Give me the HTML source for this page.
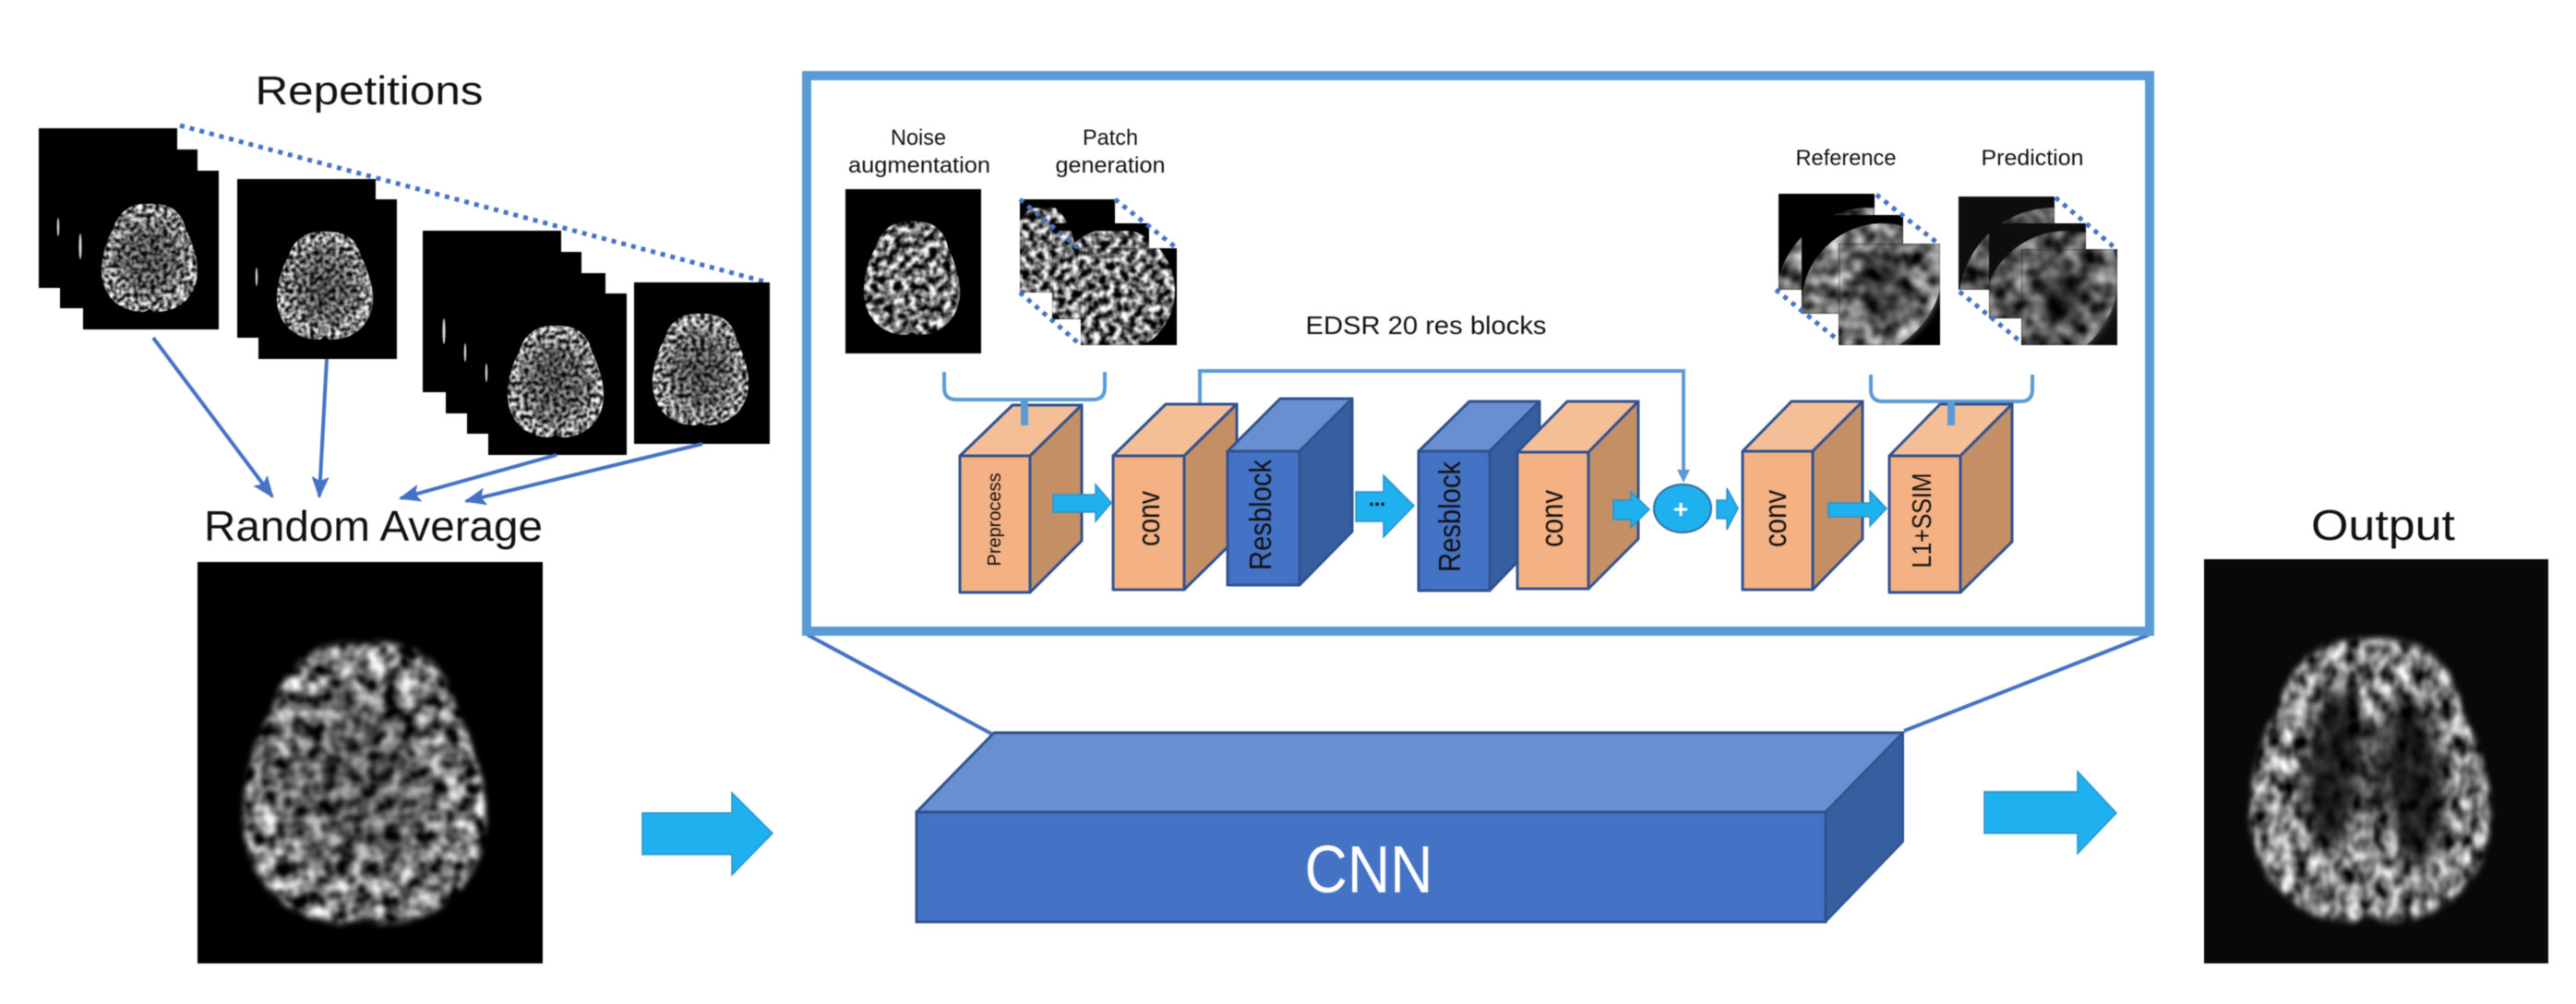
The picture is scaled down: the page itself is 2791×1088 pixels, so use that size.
<!DOCTYPE html>
<html>
<head>
<meta charset="utf-8">
<style>
html,body{margin:0;padding:0;background:#fff;width:2791px;height:1088px;overflow:hidden}
svg{display:block;filter:blur(.6px)}
text{font-family:"Liberation Sans",sans-serif;fill:#111}
.f{fill:#f4b183;stroke:#2f528f;stroke-width:3;stroke-linejoin:round}
.t{fill:#f4be96;stroke:#2f528f;stroke-width:3;stroke-linejoin:round}
.s{fill:#c58f66;stroke:#2f528f;stroke-width:3;stroke-linejoin:round}
.bf{fill:#4472c4;stroke:#2f528f;stroke-width:3;stroke-linejoin:round}
.bt{fill:#6a8fd0;stroke:#2f528f;stroke-width:3;stroke-linejoin:round}
.bs{fill:#365f9f;stroke:#2f528f;stroke-width:3;stroke-linejoin:round}
.a{fill:#1fb0f0;stroke:#2e8fc4;stroke-width:1.5}
.d{fill:none;stroke:#4472c4;stroke-width:5;stroke-dasharray:5 6}
.l{fill:none;stroke:#5b9bd5;stroke-width:4}
.th{fill:none;stroke:#4472c4;stroke-width:4}
</style>
</head>
<body>
<svg width="2791" height="1088" viewBox="0 0 2791 1088" xmlns="http://www.w3.org/2000/svg">
<defs>
<path id="b" d="M-.05,-1 C.3,-1.02 .65,-.95 .75,-.55 C.95,-.2 1.02,.1 1,.3 C.95,.75 .55,1 .1,.98 L0,.93 L-.1,.98 C-.55,1 -.95,.75 -1,.3 C-1.02,0 -.9,-.35 -.75,-.55 C-.65,-.9 -.3,-1.02 -.05,-1Z"/>
<filter id="soft" x="-10%" y="-10%" width="120%" height="120%"><feGaussianBlur stdDeviation=".025"/></filter>
<filter id="bl4" x="-40%" y="-40%" width="180%" height="180%"><feGaussianBlur stdDeviation="4"/></filter>
<filter id="bl9" x="-60%" y="-40%" width="220%" height="180%"><feGaussianBlur stdDeviation="9"/></filter>
<filter id="nFine" x="0" y="0" width="100%" height="100%" color-interpolation-filters="sRGB">
<feTurbulence type="fractalNoise" baseFrequency=".22" numOctaves="2" seed="4"/>
<feColorMatrix type="matrix" values="2.9 0 0 0 -.92 2.9 0 0 0 -.92 2.9 0 0 0 -.92 0 0 0 0 1"/>
<feGaussianBlur stdDeviation=".7"/>
</filter>
<filter id="nMid" x="0" y="0" width="100%" height="100%" color-interpolation-filters="sRGB">
<feTurbulence type="fractalNoise" baseFrequency=".13" numOctaves="2" seed="9"/>
<feColorMatrix type="matrix" values="2.6 0 0 0 -.85 2.6 0 0 0 -.85 2.6 0 0 0 -.85 0 0 0 0 1"/>
<feGaussianBlur stdDeviation=".8"/>
</filter>
<filter id="nBig" x="0" y="0" width="100%" height="100%" color-interpolation-filters="sRGB">
<feTurbulence type="fractalNoise" baseFrequency=".06" numOctaves="2" seed="12"/>
<feColorMatrix type="matrix" values="2 0 0 0 -.52 2 0 0 0 -.52 2 0 0 0 -.52 0 0 0 0 1"/>
<feGaussianBlur stdDeviation="1.5"/>
</filter>
<filter id="nGray" x="0" y="0" width="100%" height="100%" color-interpolation-filters="sRGB">
<feTurbulence type="fractalNoise" baseFrequency=".055" numOctaves="2" seed="21"/>
<feColorMatrix type="matrix" values="1.5 0 0 0 -.32 1.5 0 0 0 -.32 1.5 0 0 0 -.32 0 0 0 0 1"/>
<feGaussianBlur stdDeviation="1.2"/>
</filter>
<filter id="nOut" x="0" y="0" width="100%" height="100%" color-interpolation-filters="sRGB">
<feTurbulence type="fractalNoise" baseFrequency=".07 .05" numOctaves="2" seed="30"/>
<feColorMatrix type="matrix" values="1.7 0 0 0 -.35 1.7 0 0 0 -.35 1.7 0 0 0 -.35 0 0 0 0 1"/>
<feGaussianBlur stdDeviation="1.2"/>
</filter>
<radialGradient id="core"><stop offset="0" stop-color="#000" stop-opacity=".5"/><stop offset=".65" stop-color="#000" stop-opacity=".3"/><stop offset="1" stop-color="#000" stop-opacity="0"/></radialGradient>
<mask id="mRep" maskUnits="userSpaceOnUse" x="0" y="0" width="2791" height="1088">
<g fill="#fff">
<use href="#b" transform="translate(162 280) scale(52 59)"/>
<use href="#b" transform="translate(352 310) scale(52 59)"/>
<use href="#b" transform="translate(602 414) scale(52 61)"/>
<use href="#b" transform="translate(759 401) scale(52 61)"/>
</g>
</mask>
<mask id="mBig" maskUnits="userSpaceOnUse" x="0" y="0" width="2791" height="1088"><use href="#b" fill="#fff" transform="translate(395 850) scale(131 153)" filter="url(#soft)"/></mask>
<mask id="mOut" maskUnits="userSpaceOnUse" x="0" y="0" width="2791" height="1088"><use href="#b" fill="#fff" transform="translate(2568 847) scale(130 154)" filter="url(#soft)"/></mask>
<mask id="mNoise" maskUnits="userSpaceOnUse" x="0" y="0" width="2791" height="1088"><use href="#b" fill="#fff" transform="translate(988 302) scale(52 62)"/></mask>
<mask id="mP" maskUnits="userSpaceOnUse" x="0" y="0" width="2791" height="1088"><ellipse cx="1207" cy="315" rx="66" ry="68" fill="#fff"/><ellipse cx="1130" cy="285" rx="36" ry="64" fill="#fff"/></mask>
<mask id="mR1" maskUnits="userSpaceOnUse" x="0" y="0" width="2791" height="1088"><ellipse cx="2025" cy="330" rx="102" ry="105" fill="#fff"/></mask>
<mask id="mR2" maskUnits="userSpaceOnUse" x="0" y="0" width="2791" height="1088"><ellipse cx="2040" cy="330" rx="88" ry="88" fill="#fff"/></mask>
<mask id="mR3" maskUnits="userSpaceOnUse" x="0" y="0" width="2791" height="1088"><ellipse cx="2000" cy="290" rx="105" ry="100" fill="#fff"/></mask>
<mask id="mQ1" maskUnits="userSpaceOnUse" x="0" y="0" width="2791" height="1088"><ellipse cx="2225" cy="330" rx="103" ry="105" fill="#fff"/></mask>
<mask id="mQ2" maskUnits="userSpaceOnUse" x="0" y="0" width="2791" height="1088"><ellipse cx="2240" cy="335" rx="90" ry="85" fill="#fff"/></mask>
<mask id="mQ3" maskUnits="userSpaceOnUse" x="0" y="0" width="2791" height="1088"><ellipse cx="2190" cy="300" rx="105" ry="100" fill="#fff"/></mask>
<clipPath id="cP2"><rect x="1140" y="242" width="105" height="104"/></clipPath>
<clipPath id="cR3"><rect x="1992" y="264" width="110" height="110"/></clipPath>
<clipPath id="cQ3"><rect x="2190" y="270" width="104" height="104"/></clipPath>
<marker id="ah" viewBox="0 0 10 10" refX="9" refY="5" markerWidth="6" markerHeight="6" orient="auto"><path d="M0,1 L10,5 L0,9 L2,5Z" fill="#4472c4"/></marker>
</defs>

<rect width="2791" height="1088" fill="#fff"/>

<!-- Left: repetitions -->
<text x="400" y="113" font-size="44" text-anchor="middle" textLength="247" lengthAdjust="spacingAndGlyphs">Repetitions</text>
<line class="d" x1="195" y1="136" x2="828" y2="305"/>
<g fill="#000">
<rect x="42" y="139" width="150" height="173"/><rect x="65" y="162" width="149" height="172"/><rect x="90" y="185" width="147" height="172"/>
<rect x="257" y="194" width="150" height="172"/><rect x="280" y="216" width="150" height="173"/>
<rect x="458" y="250" width="150" height="175"/><rect x="483" y="273" width="147" height="175"/><rect x="506" y="296" width="150" height="174"/><rect x="529" y="318" width="150" height="175"/>
<rect x="687" y="306" width="147" height="175"/>
</g>
<g fill="#ccc">
<ellipse cx="63" cy="246" rx="1.3" ry="10"/><ellipse cx="87" cy="267" rx="1.6" ry="14"/><ellipse cx="278" cy="300" rx="1.3" ry="10"/>
<ellipse cx="481" cy="359" rx="1.6" ry="14"/><ellipse cx="504" cy="382" rx="1.3" ry="10"/><ellipse cx="527" cy="404" rx="1.3" ry="10"/>
</g>
<rect x="90" y="200" width="760" height="290" fill="#fff" filter="url(#nFine)" mask="url(#mRep)"/>
<ellipse cx="162" cy="280" rx="46" ry="52" fill="url(#core)"/>
<ellipse cx="352" cy="310" rx="46" ry="52" fill="url(#core)"/>
<ellipse cx="602" cy="414" rx="46" ry="54" fill="url(#core)"/>
<ellipse cx="759" cy="401" rx="46" ry="54" fill="url(#core)"/>

<line class="th" x1="166" y1="366" x2="295" y2="538" marker-end="url(#ah)"/>
<line class="th" x1="354" y1="389" x2="346" y2="538" marker-end="url(#ah)"/>
<line class="th" x1="603" y1="493" x2="434" y2="540" marker-end="url(#ah)"/>
<line class="th" x1="761" y1="481" x2="505" y2="543" marker-end="url(#ah)"/>

<text x="404.5" y="586" font-size="46" text-anchor="middle" textLength="367" lengthAdjust="spacingAndGlyphs">Random Average</text>
<rect x="214" y="609" width="374" height="435" fill="#000"/>
<rect x="250" y="680" width="290" height="340" fill="#fff" filter="url(#nBig)" mask="url(#mBig)"/>
<ellipse cx="390" cy="845" rx="110" ry="130" fill="url(#core)" opacity=".8"/>

<polygon class="a" points="696,881 793,881 793,859 837,903 793,948 793,926 696,926"/>

<!-- Frame connectors -->
<line x1="875" y1="688" x2="1074" y2="795" stroke="#4472c4" stroke-width="4"/>
<line x1="2328" y1="688" x2="2063" y2="792" stroke="#4472c4" stroke-width="4"/>

<!-- Frame -->
<rect x="874" y="82" width="1455" height="602" fill="#fff" stroke="#5b9bd5" stroke-width="10"/>

<!-- Top labels -->
<text x="995" y="157" font-size="24" text-anchor="middle" textLength="60" lengthAdjust="spacingAndGlyphs">Noise</text>
<text x="996" y="187" font-size="24" text-anchor="middle" textLength="154" lengthAdjust="spacingAndGlyphs">augmentation</text>
<text x="1203" y="157" font-size="24" text-anchor="middle" textLength="60" lengthAdjust="spacingAndGlyphs">Patch</text>
<text x="1203" y="187" font-size="24" text-anchor="middle" textLength="119" lengthAdjust="spacingAndGlyphs">generation</text>
<text x="2000" y="179" font-size="24" text-anchor="middle" textLength="109" lengthAdjust="spacingAndGlyphs">Reference</text>
<text x="2202" y="179" font-size="24" text-anchor="middle" textLength="111" lengthAdjust="spacingAndGlyphs">Prediction</text>
<text x="1545" y="362" font-size="28" text-anchor="middle" textLength="261" lengthAdjust="spacingAndGlyphs">EDSR 20 res blocks</text>

<!-- Noise image -->
<rect x="916" y="205" width="147" height="178" fill="#000"/>
<rect x="930" y="235" width="120" height="135" fill="#fff" filter="url(#nMid)" mask="url(#mNoise)"/>

<!-- Patch stack -->
<rect x="1105" y="216" width="103" height="101" fill="#000"/>
<rect x="1105" y="225" width="90" height="92" fill="#fff" filter="url(#nMid)" mask="url(#mP)"/>
<rect x="1140" y="242" width="105" height="104" fill="#000"/>
<g clip-path="url(#cP2)"><rect x="1140" y="250" width="105" height="96" fill="#fff" filter="url(#nMid)" mask="url(#mP)"/></g>
<rect x="1171" y="269" width="104" height="105" fill="#000"/>
<rect x="1171" y="269" width="104" height="105" fill="#fff" filter="url(#nMid)" mask="url(#mP)"/>
<line class="d" x1="1208" y1="216" x2="1275" y2="269"/>
<line class="d" x1="1105" y1="317" x2="1171" y2="374"/>
<line class="d" x1="1105" y1="216" x2="1171" y2="271"/>

<!-- Reference stack -->
<rect x="1927" y="210" width="104" height="104" fill="#000"/>
<rect x="1927" y="210" width="104" height="104" fill="#fff" filter="url(#nGray)" mask="url(#mR1)"/>
<rect x="1952" y="233" width="110" height="107" fill="#000"/>
<rect x="1952" y="233" width="110" height="107" fill="#fff" filter="url(#nGray)" mask="url(#mR2)"/>
<rect x="1992" y="264" width="110" height="110" fill="#000"/>
<rect x="1992" y="264" width="110" height="110" fill="#fff" filter="url(#nGray)" mask="url(#mR3)"/>
<g clip-path="url(#cR3)">
<ellipse cx="2000" cy="290" rx="102" ry="97" fill="none" stroke="#fff" stroke-width="7" opacity=".4" filter="url(#bl4)"/>
<ellipse cx="2042" cy="312" rx="26" ry="34" fill="#000" opacity=".5" filter="url(#bl9)"/>
</g>

<line class="d" x1="2033" y1="211" x2="2100" y2="264"/>
<line class="d" x1="1924" y1="314" x2="1992" y2="369"/>

<!-- Prediction stack -->
<rect x="2122" y="213" width="104" height="101" fill="#0d0d0d"/>
<rect x="2122" y="213" width="104" height="101" fill="#fff" filter="url(#nGray)" mask="url(#mQ1)" opacity=".85"/>
<rect x="2155" y="242" width="105" height="103" fill="#0d0d0d"/>
<rect x="2155" y="242" width="105" height="103" fill="#fff" filter="url(#nGray)" mask="url(#mQ2)" opacity=".8"/>
<rect x="2190" y="270" width="104" height="104" fill="#0d0d0d"/>
<rect x="2190" y="270" width="104" height="104" fill="#fff" filter="url(#nGray)" mask="url(#mQ3)" opacity=".8"/>
<g clip-path="url(#cQ3)">
<ellipse cx="2190" cy="300" rx="102" ry="97" fill="none" stroke="#fff" stroke-width="7" opacity=".3" filter="url(#bl4)"/>
<ellipse cx="2235" cy="322" rx="24" ry="32" fill="#000" opacity=".6" filter="url(#bl9)"/>
</g>
<line class="d" x1="2227" y1="214" x2="2293" y2="270"/>
<line class="d" x1="2123" y1="316" x2="2189" y2="370"/>

<!-- Brackets -->
<path class="l" d="M1023,403 V420 Q1023,433 1036,433 H1184 Q1197,433 1197,420 V403"/>
<path class="l" d="M2027,406 V422 Q2027,435 2040,435 H2189 Q2202,435 2202,422 V406"/>

<!-- Skip connector -->
<path class="l" d="M1300,440 V402 H1824 V512"/>

<!-- Preprocess -->
<polygon class="t" points="1040,494 1097,439 1172,439 1116,494"/>
<polygon class="s" points="1116,494 1172,439 1172,586 1116,642"/>
<rect class="f" x="1040" y="494" width="76" height="148"/>
<text transform="translate(1084 563) rotate(-90)" font-size="20" text-anchor="middle" textLength="101" lengthAdjust="spacingAndGlyphs">Preprocess</text>
<rect x="1106" y="431" width="8" height="30" fill="#5b9bd5"/>

<!-- conv 1 -->
<polygon class="t" points="1206,494 1263,438 1340,438 1283,494"/>
<polygon class="s" points="1283,494 1340,438 1340,583 1283,639"/>
<rect class="f" x="1206" y="494" width="77" height="145"/>
<text transform="translate(1256 562) rotate(-90)" font-size="34" text-anchor="middle" textLength="60" lengthAdjust="spacingAndGlyphs">conv</text>

<!-- Resblock 1 -->
<polygon class="bt" points="1330,489 1387,432 1465,432 1408,489"/>
<polygon class="bs" points="1408,489 1465,432 1465,576 1408,634"/>
<rect class="bf" x="1330" y="489" width="78" height="145"/>
<text transform="translate(1377 558) rotate(-90)" font-size="33" text-anchor="middle" textLength="120" lengthAdjust="spacingAndGlyphs">Resblock</text>

<!-- Resblock 2 -->
<polygon class="bt" points="1537,489 1592,435 1668,435 1614,489"/>
<polygon class="bs" points="1614,489 1668,435 1668,584 1614,640"/>
<rect class="bf" x="1537" y="489" width="77" height="151"/>
<text transform="translate(1582 560) rotate(-90)" font-size="33" text-anchor="middle" textLength="120" lengthAdjust="spacingAndGlyphs">Resblock</text>

<!-- conv 2 -->
<polygon class="t" points="1644,490 1698,435 1775,435 1721,490"/>
<polygon class="s" points="1721,490 1775,435 1775,584 1721,638"/>
<rect class="f" x="1644" y="490" width="77" height="148"/>
<text transform="translate(1693 562) rotate(-90)" font-size="34" text-anchor="middle" textLength="62" lengthAdjust="spacingAndGlyphs">conv</text>

<!-- conv 3 -->
<polygon class="t" points="1888,489 1941,435 2018,435 1964,489"/>
<polygon class="s" points="1964,489 2018,435 2018,584 1964,639"/>
<rect class="f" x="1888" y="489" width="76" height="150"/>
<text transform="translate(1935 562) rotate(-90)" font-size="34" text-anchor="middle" textLength="62" lengthAdjust="spacingAndGlyphs">conv</text>

<!-- L1+SSIM -->
<polygon class="t" points="2047,494 2102,438 2180,438 2124,494"/>
<polygon class="s" points="2124,494 2180,438 2180,587 2124,642"/>
<rect class="f" x="2047" y="494" width="77" height="148"/>
<text transform="translate(2092 564) rotate(-90)" font-size="29" text-anchor="middle" textLength="103" lengthAdjust="spacingAndGlyphs">L1+SSIM</text>
<rect x="2110" y="434" width="8" height="27" fill="#5b9bd5"/>

<!-- Inner arrows -->
<polygon class="a" points="1141,536 1187,536 1187,525 1204,545 1187,565 1187,555 1141,555"/>
<polygon class="a" points="1469,533 1499,533 1499,515 1532,548 1499,582 1499,565 1469,565"/>
<text x="1492" y="548" font-size="22" text-anchor="middle" font-weight="bold">...</text>
<polygon class="a" points="1748,542 1767,542 1767,533 1787,552 1767,572 1767,563 1748,563"/>
<polygon class="a" points="1860,542 1871,542 1871,529 1883,551 1871,574 1871,562 1860,562"/>
<polygon class="a" points="1981,545 2026,545 2026,532 2044,551 2026,570 2026,560 1981,560"/>

<!-- Plus -->
<polygon points="1824,523 1817,509 1831,509" fill="#5b9bd5"/>
<ellipse cx="1823" cy="551" rx="31" ry="26" fill="#1fb0f0" stroke="#2f6f9f" stroke-width="2"/>
<text x="1821" y="561" font-size="28" font-weight="bold" text-anchor="middle" style="fill:#fff">+</text>

<!-- CNN -->
<polygon points="993,880 1077,794 2062,794 1978,880" fill="#6a8fd0" stroke="#2f528f" stroke-width="3" stroke-linejoin="round"/>
<polygon points="1978,880 2062,794 2062,912 1978,999" fill="#365f9f" stroke="#2f528f" stroke-width="2" stroke-linejoin="round"/>
<rect x="993" y="880" width="985" height="119" fill="#4472c4" stroke="#2f528f" stroke-width="3"/>
<text x="1483" y="967" font-size="72" text-anchor="middle" textLength="139" lengthAdjust="spacingAndGlyphs" style="fill:#fff">CNN</text>

<polygon class="a" points="2150,858 2251,858 2251,836 2293,881 2251,925 2251,903 2150,903"/>

<!-- Output -->
<text x="2582" y="585" font-size="46" text-anchor="middle" textLength="156" lengthAdjust="spacingAndGlyphs">Output</text>
<rect x="2388" y="606" width="373" height="438" fill="#080808"/>
<rect x="2420" y="680" width="300" height="335" fill="#fff" filter="url(#nOut)" mask="url(#mOut)"/>
<g fill="#000">
<ellipse cx="2528" cy="830" rx="30" ry="88" opacity=".8" filter="url(#bl9)" transform="rotate(6 2528 830)"/>
<ellipse cx="2615" cy="845" rx="32" ry="92" opacity=".8" filter="url(#bl9)" transform="rotate(-5 2615 845)"/>
<ellipse cx="2570" cy="835" rx="14" ry="60" opacity=".45" filter="url(#bl9)"/>
</g>
</svg>
</body>
</html>
